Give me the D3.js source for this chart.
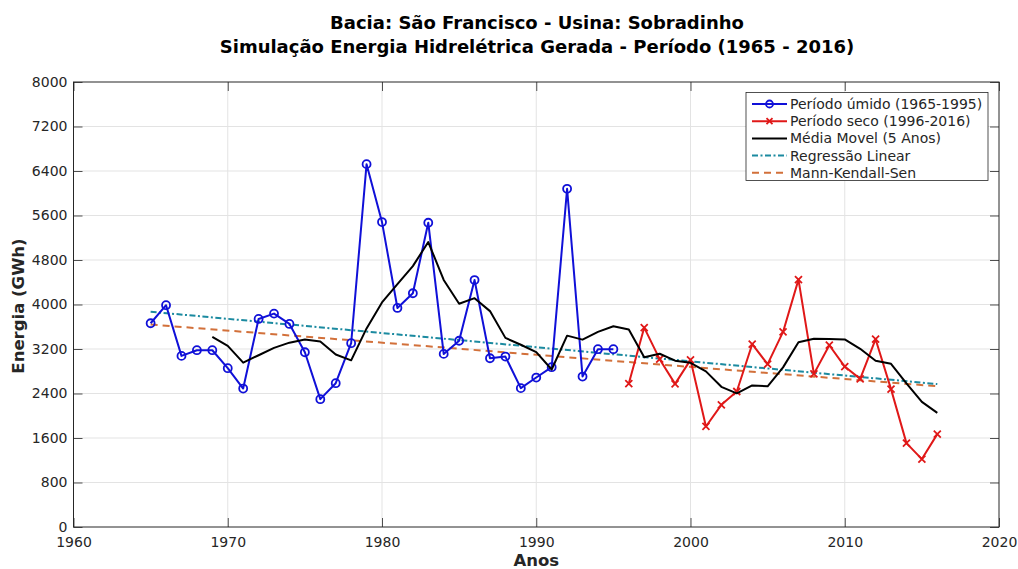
<!DOCTYPE html>
<html>
<head>
<meta charset="utf-8">
<script src="https://cdn.jsdelivr.net/npm/d3@7"></script>
<style>
  body { margin: 0; background: #fff; }
  text { font-family: "DejaVu Sans", sans-serif; }
</style>
</head>
<body>
<svg id="chart" width="1018" height="569"></svg>
<script>
// Annual simulated hydroelectric energy, Sobradinho plant (GWh)
const wetYears = [1965,1966,1967,1968,1969,1970,1971,1972,1973,1974,1975,1976,1977,1978,1979,1980,
  1981,1982,1983,1984,1985,1986,1987,1988,1989,1990,1991,1992,1993,1994,1995];
const wetValues = [3663,3987,3076,3178,3178,2855,2489,3740,3836,3651,3142,2298,2585,3304,6523,5482,
  3938,4202,5470,3112,3348,4440,3034,3064,2496,2687,2873,6080,2705,3196,3196];

const dryYears = [1996,1997,1998,1999,2000,2001,2002,2003,2004,2005,2006,2007,2008,2009,2010,2011,
  2012,2013,2014,2015,2016];
const dryValues = [2579,3585,3017,2573,3005,1807,2196,2436,3286,2927,3507,4447,2753,3268,2884,2663,
  3376,2478,1508,1221,1670];

// 5-year moving average
const maYears = [1969,1970,1971,1972,1973,1974,1975,1976,1977,1978,1979,1980,1981,1982,1983,1984,
  1985,1986,1987,1988,1989,1990,1991,1992,1993,1994,1995,1996,1997,1998,1999,2000,2001,2002,2003,
  2004,2005,2006,2007,2008,2009,2010,2011,2012,2013,2014,2015,2016];
const maValues = [3416,3255,2955,3088,3220,3314,3372,3333,3102,2996,3570,4038,4366,4690,5123,4441,
  4014,4114,3881,3400,3276,3144,2831,3440,3368,3508,3610,3551,3052,3115,2990,2952,2797,2520,2403,
  2546,2530,2870,3321,3384,3380,3372,3203,2989,2934,2582,2249,2051];

// Trend lines (endpoints)
const trendYears = [1965, 2016];
const regressionValues = [3870, 2570];
const senValues = [3640, 2530];

const xTicks = [1960,1970,1980,1990,2000,2010,2020];
const yTicks = [0,800,1600,2400,3200,4000,4800,5600,6400,7200,8000];

const titleLines = ["Bacia: São Francisco - Usina: Sobradinho",
  "Simulação Energia Hidrelétrica Gerada - Período (1965 - 2016)"];
const legendLabels = ["Período úmido (1965-1995)", "Período seco (1996-2016)",
  "Média Movel (5 Anos)", "Regressão Linear", "Mann-Kendall-Sen"];

const svg = d3.select("#chart");
const pLeft = 73.5, pRight = 999, pTop = 82, pBottom = 527;
const x = d3.scaleLinear().domain([1960, 2020]).range([pLeft, pRight]);
const y = d3.scaleLinear().domain([0, 8000]).range([pBottom, pTop]);

const axisColor = "#262626";
const blue = "#1010d8", red = "#e01818", teal = "#1b8aa0", orange = "#d2703a";
const tickLen = 9;

svg.append("rect").attr("width", 1018).attr("height", 569).attr("fill", "#fff");

// grid
const grid = svg.append("g").attr("stroke", "#e3e3e3").attr("stroke-width", 1);
grid.selectAll("line.gx").data(xTicks.slice(1, -1)).join("line")
  .attr("x1", d => x(d)).attr("x2", d => x(d)).attr("y1", pTop).attr("y2", pBottom);
grid.selectAll("line.gy").data(yTicks.slice(1, -1)).join("line")
  .attr("y1", d => y(d)).attr("y2", d => y(d)).attr("x1", pLeft).attr("x2", pRight);

// axes (inward ticks on all four sides)
const fmt = d3.format("d");
const gx = svg.append("g").attr("transform", `translate(0,${pBottom})`)
  .call(d3.axisBottom(x).tickValues(xTicks).tickFormat(fmt).tickSizeInner(-tickLen).tickSizeOuter(0).tickPadding(6));
const gy = svg.append("g").attr("transform", `translate(${pLeft},0)`)
  .call(d3.axisLeft(y).tickValues(yTicks).tickFormat(fmt).tickSizeInner(-tickLen).tickSizeOuter(0).tickPadding(6));
const gxTop = svg.append("g").attr("transform", `translate(0,${pTop})`)
  .call(d3.axisTop(x).tickValues(xTicks).tickFormat("").tickSizeInner(-tickLen).tickSizeOuter(0));
const gyRight = svg.append("g").attr("transform", `translate(${pRight},0)`)
  .call(d3.axisRight(y).tickValues(yTicks).tickFormat("").tickSizeInner(-tickLen).tickSizeOuter(0));
[gx, gy, gxTop, gyRight].forEach(g => {
  g.select(".domain").remove();
  g.selectAll(".tick line").attr("stroke", axisColor).attr("stroke-width", 0.8);
  g.selectAll(".tick text").attr("fill", axisColor).style("font-size", "14px")
    .style("font-family", "'DejaVu Sans', sans-serif");
});
gx.selectAll(".tick text").attr("y", 14.5).attr("dy", "0.36em");

// plot box
svg.append("rect").attr("x", pLeft).attr("y", pTop).attr("width", pRight - pLeft).attr("height", pBottom - pTop)
  .attr("fill", "none").attr("stroke", axisColor).attr("stroke-width", 1);

const line = d3.line().x(d => x(d[0])).y(d => y(d[1]));
const zip = (a, b) => a.map((v, i) => [v, b[i]]);

const plot = svg.append("g");
// trend lines
plot.append("path").datum(zip(trendYears, senValues)).attr("d", line)
  .attr("fill", "none").attr("stroke", orange).attr("stroke-width", 2).attr("stroke-dasharray", "7,5");
plot.append("path").datum(zip(trendYears, regressionValues)).attr("d", line)
  .attr("fill", "none").attr("stroke", teal).attr("stroke-width", 2).attr("stroke-dasharray", "6,2.5,2,2.5");

// wet period
const wet = zip(wetYears, wetValues);
plot.append("path").datum(wet).attr("d", line).attr("fill", "none").attr("stroke", blue)
  .attr("stroke-width", 2).attr("stroke-linejoin", "round");
plot.selectAll("circle.wet").data(wet).join("circle").attr("class", "wet")
  .attr("cx", d => x(d[0])).attr("cy", d => y(d[1])).attr("r", 4)
  .attr("fill", "none").attr("stroke", blue).attr("stroke-width", 1.8);

// dry period
const dry = zip(dryYears, dryValues);
plot.append("path").datum(dry).attr("d", line).attr("fill", "none").attr("stroke", red)
  .attr("stroke-width", 2).attr("stroke-linejoin", "round");
const xMark = s => `M${-s},${-s}L${s},${s}M${-s},${s}L${s},${-s}`;
plot.selectAll("path.dry").data(dry).join("path").attr("class", "dry")
  .attr("transform", d => `translate(${x(d[0])},${y(d[1])})`).attr("d", xMark(3.5))
  .attr("fill", "none").attr("stroke", red).attr("stroke-width", 1.8);

// moving average
plot.append("path").datum(zip(maYears, maValues)).attr("d", line).attr("fill", "none")
  .attr("stroke", "#000").attr("stroke-width", 2).attr("stroke-linejoin", "round");

// titles
svg.selectAll("text.title").data(titleLines).join("text").attr("class", "title")
  .attr("x", 537).attr("y", (d, i) => 29 + i * 24).attr("text-anchor", "middle")
  .attr("font-weight", "bold").attr("font-size", "18px").attr("fill", "#000").text(d => d);
svg.append("text").attr("x", (pLeft + pRight) / 2).attr("y", 566).attr("text-anchor", "middle")
  .attr("font-weight", "bold").attr("font-size", "16.5px").attr("fill", axisColor).text("Anos");
svg.append("text").attr("transform", `translate(24,306) rotate(-90)`)
  .attr("text-anchor", "middle").attr("font-weight", "bold").attr("font-size", "16.5px")
  .attr("fill", axisColor).text("Energia (GWh)");

// legend
const lg = svg.append("g");
lg.append("rect").attr("x", 746).attr("y", 92.5).attr("width", 242).attr("height", 88)
  .attr("fill", "#fff").attr("stroke", axisColor).attr("stroke-width", 0.8);
const legendStyles = [
  { color: blue, dash: null, marker: "o" },
  { color: red, dash: null, marker: "x" },
  { color: "#000", dash: null, marker: null },
  { color: teal, dash: "6,2.5,2,2.5", marker: null },
  { color: orange, dash: "7,5", marker: null }
];
legendLabels.forEach((lab, i) => {
  const cy = 104 + i * 17.2, st = legendStyles[i];
  lg.append("line").attr("x1", 752).attr("x2", 787).attr("y1", cy).attr("y2", cy)
    .attr("stroke", st.color).attr("stroke-width", 2).attr("stroke-dasharray", st.dash);
  if (st.marker === "o") lg.append("circle").attr("cx", 769.5).attr("cy", cy).attr("r", 3.5)
    .attr("fill", "none").attr("stroke", st.color).attr("stroke-width", 1.8);
  if (st.marker === "x") lg.append("path").attr("transform", `translate(769.5,${cy})`).attr("d", xMark(3))
    .attr("stroke", st.color).attr("stroke-width", 1.8);
  lg.append("text").attr("x", 790).attr("y", cy).attr("dy", "0.35em").attr("font-size", "14px")
    .attr("fill", axisColor).text(lab);
});
</script>
</body>
</html>
